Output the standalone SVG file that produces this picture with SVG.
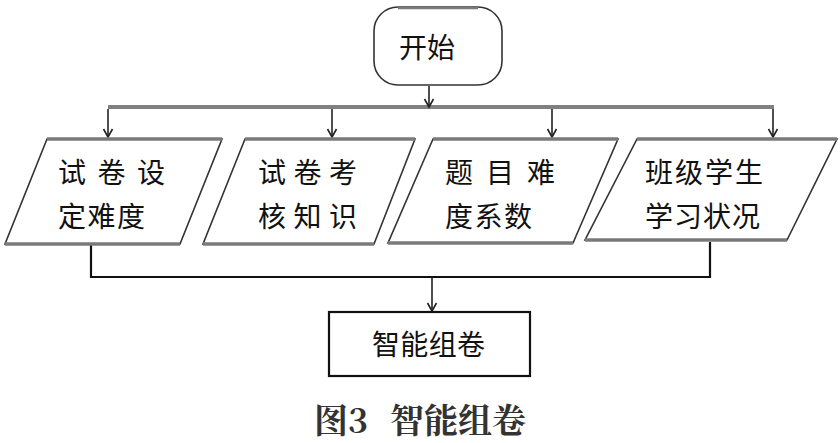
<svg xmlns="http://www.w3.org/2000/svg" width="840" height="443" viewBox="0 0 840 443">
<style>
.t{font-family:"Noto Sans CJK SC","Noto Sans",sans-serif;font-size:28px;fill:#111;}
.para{fill:#fff;stroke:#333;stroke-width:1.6;}
.edge{stroke:#7a7a7a;stroke-width:3.5;fill:none;}
.ln{stroke:#222;stroke-width:1.6;fill:none;}
.cap{font-family:"Noto Serif CJK SC","Noto Sans CJK SC","Liberation Serif",serif;font-size:34px;font-weight:bold;fill:#333;}
</style>
<defs>
<marker id="ah" markerWidth="12" markerHeight="12" refX="10" refY="6" orient="auto" markerUnits="userSpaceOnUse" viewBox="0 0 12 12">
<path d="M2,1.5 L10,6 L2,10.5" fill="none" stroke="#222" stroke-width="1.6"/>
</marker>
</defs>
<rect width="840" height="443" fill="#fff"/>
<g id="connectors">
<line x1="108" y1="107" x2="774" y2="107" stroke="#808080" stroke-width="4"/>
<line class="ln" x1="429" y1="86" x2="429" y2="107" marker-end="url(#ah)"/>
<line class="ln" x1="108" y1="109" x2="108" y2="137" marker-end="url(#ah)"/>
<line class="ln" x1="332" y1="109" x2="332" y2="137" marker-end="url(#ah)"/>
<line class="ln" x1="552" y1="109" x2="552" y2="137" marker-end="url(#ah)"/>
<line class="ln" x1="773" y1="109" x2="773" y2="137" marker-end="url(#ah)"/>
<polyline points="91,245 91,277 710,277 710,242" fill="none" stroke="#111" stroke-width="2.2"/>
<line class="ln" x1="432" y1="278" x2="432" y2="311" marker-end="url(#ah)"/>
</g>
<g id="start">
<rect x="374" y="7" width="128" height="78" rx="24" ry="24" fill="#fff" stroke="#333" stroke-width="1.6"/>
<path d="M398,8 L478,8" stroke="#7a7a7a" stroke-width="2.5"/>
<text class="t" x="427" y="58" text-anchor="middle">开始</text>
</g>
<g id="node1">
<polygon class="para" points="47,139 222,139 180,244 5,244"/>
<line class="edge" x1="47" y1="139" x2="222" y2="139"/>
<line class="edge" x1="5" y1="244" x2="180" y2="244"/>
<text class="t" x="58" y="183" xml:space="preserve" textLength="107" lengthAdjust="spacing">试 卷 设</text>
<text class="t" x="58" y="227" textLength="87" lengthAdjust="spacing">定难度</text>
</g>
<g id="node2">
<polygon class="para" points="245,139 415,139 374,244 203,244"/>
<line class="edge" x1="245" y1="139" x2="415" y2="139"/>
<line class="edge" x1="203" y1="244" x2="374" y2="244"/>
<text class="t" x="258" y="183" xml:space="preserve" textLength="99" lengthAdjust="spacing">试 卷 考</text>
<text class="t" x="258" y="227" xml:space="preserve" textLength="99" lengthAdjust="spacing">核 知 识</text>
</g>
<g id="node3">
<polygon class="para" points="433,139 618,139 573,243 388,243"/>
<line class="edge" x1="433" y1="139" x2="618" y2="139"/>
<line class="edge" x1="388" y1="243" x2="573" y2="243"/>
<text class="t" x="445" y="183" xml:space="preserve" textLength="110" lengthAdjust="spacing">题 目 难</text>
<text class="t" x="445" y="227" textLength="87" lengthAdjust="spacing">度系数</text>
</g>
<g id="node4">
<polygon class="para" points="637,139 837,139 787,240 585,240"/>
<line class="edge" x1="637" y1="139" x2="837" y2="139"/>
<line class="edge" x1="585" y1="240" x2="787" y2="240"/>
<text class="t" x="645" y="183" textLength="118" lengthAdjust="spacing">班级学生</text>
<text class="t" x="645" y="227" textLength="115" lengthAdjust="spacing">学习状况</text>
</g>
<g id="compose">
<rect x="329" y="312" width="201" height="64" fill="#fff" stroke="#111" stroke-width="2.2"/>
<text class="t" x="372" y="355" textLength="113" lengthAdjust="spacing">智能组卷</text>
</g>
<text class="cap" x="314" y="433">图3<tspan x="390">智能组卷</tspan></text>
</svg>
